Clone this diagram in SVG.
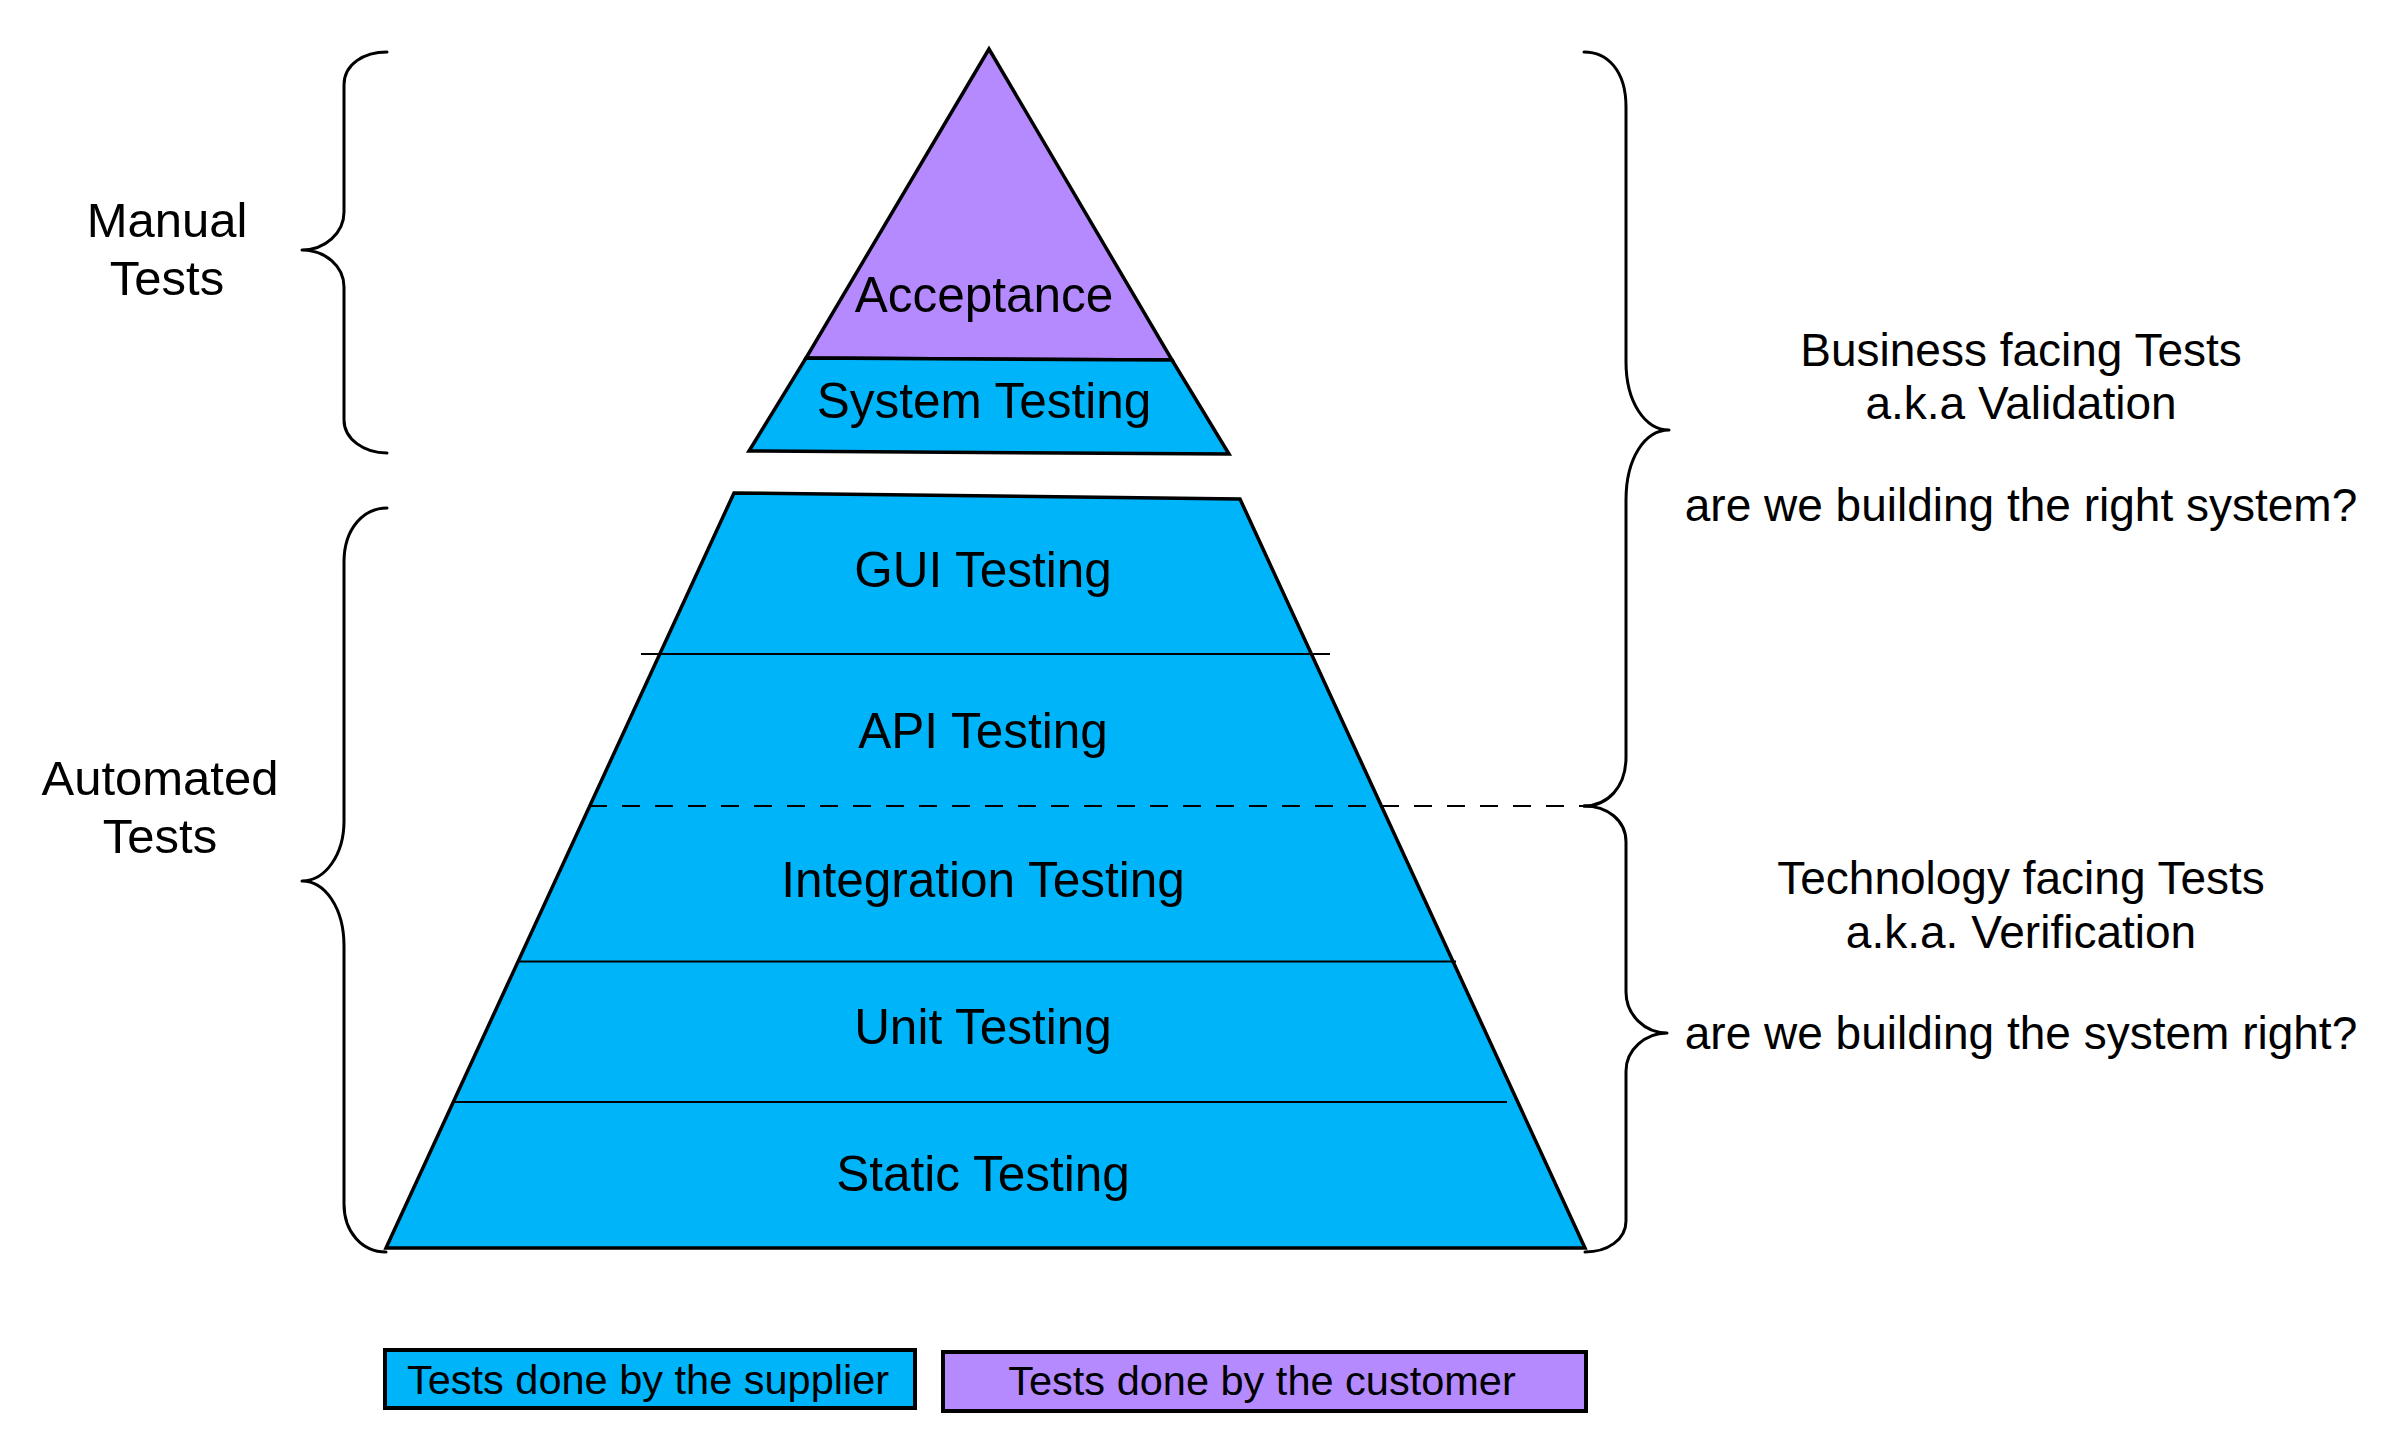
<svg xmlns="http://www.w3.org/2000/svg" width="2395" height="1454" viewBox="0 0 2395 1454">
<style>
  text { font-family: "Liberation Sans", Arial, Helvetica, sans-serif; fill: #000; }
  .lvl { font-size: 49.5px; text-anchor: middle; }
  .side { font-size: 49px; text-anchor: middle; }
  .note { font-size: 46px; text-anchor: middle; }
  .leg { font-size: 41.5px; text-anchor: middle; }
  .blue { fill: #00B4FA; }
  .purple { fill: #B48AFE; }
  .outline { stroke: #000; stroke-width: 3.5; stroke-linejoin: miter; }
  .brace { fill: none; stroke: #000; stroke-width: 3; stroke-linecap: round; stroke-linejoin: round; }
  .sep { stroke: #000; stroke-width: 1.8; fill: none; }
  .dash { stroke: #000; stroke-width: 2; fill: none; stroke-dasharray: 18 15; }
</style>
<rect x="0" y="0" width="2395" height="1454" fill="#ffffff"/>

<g id="acceptance">
  <polygon class="purple outline" points="989,49 806,358 1172,360"/>
  <text class="lvl" x="984" y="312">Acceptance</text>
</g>
<g id="system-testing">
  <polygon class="blue outline" points="806,358 1172,360 1229,454 749,451"/>
  <text class="lvl" x="984" y="418">System Testing</text>
</g>

<g id="automated-pyramid">
  <polygon class="blue outline" points="734,493 1240,499 1585,1248 386,1248"/>
</g>

<g id="connectors">
  <line class="sep" x1="641" y1="654" x2="1330" y2="654"/>
  <line class="dash" x1="589" y1="806" x2="1584" y2="806"/>
  <line class="sep" x1="517" y1="961.5" x2="1456" y2="961.5"/>
  <line class="sep" x1="454" y1="1102" x2="1507" y2="1102"/>
</g>

<g id="gui-testing"><text class="lvl" x="983" y="587">GUI Testing</text></g>
<g id="api-testing"><text class="lvl" x="983" y="748">API Testing</text></g>
<g id="integration-testing"><text class="lvl" x="983" y="897">Integration Testing</text></g>
<g id="unit-testing"><text class="lvl" x="983" y="1044">Unit Testing</text></g>
<g id="static-testing"><text class="lvl" x="983" y="1191">Static Testing</text></g>

<g id="manual-brace">
  <path class="brace" d="M387,52 C364,52 344,64 344,85 L344,212 C344,233 325,250 302,250 C325,250 344,266 344,287 L344,420 C344,439 364,453 387,453"/>
  <text class="side" x="167" y="237">Manual</text>
  <text class="side" x="167" y="295">Tests</text>
</g>

<g id="automated-brace">
  <path class="brace" d="M387,508 C364,508 344,528 344,562 L344,821 C344,855 325,881 302,881 C325,881 344,908 344,946 L344,1204 C344,1232 362,1252 386,1252"/>
  <text class="side" x="160" y="795">Automated</text>
  <text class="side" x="160" y="853">Tests</text>
</g>

<g id="business-brace">
  <path class="brace" d="M1584,52 C1607,52 1626,70 1626,107 L1626,362 C1626,402 1645,430 1669,430 C1645,430 1626,458 1626,500 L1626,757 C1626,788 1607,806 1584,806"/>
  <text class="note" x="2021" y="366">Business facing Tests</text>
  <text class="note" x="2021" y="419">a.k.a Validation</text>
  <text class="note" x="2021" y="521">are we building the right system?</text>
</g>

<g id="technology-brace">
  <path class="brace" d="M1584,806 C1607,806 1626,820 1626,842 L1626,992 C1626,1015 1645,1033 1667,1033 C1645,1033 1626,1050 1626,1071 L1626,1221 C1626,1240 1607,1252 1585,1252"/>
  <text class="note" x="2021" y="894">Technology facing Tests</text>
  <text class="note" x="2021" y="948">a.k.a. Verification</text>
  <text class="note" x="2021" y="1049">are we building the system right?</text>
</g>

<g id="legend-supplier">
  <rect class="blue" x="385" y="1350" width="530" height="58" stroke="#000" stroke-width="4"/>
  <text class="leg" x="648" y="1394">Tests done by the supplier</text>
</g>
<g id="legend-customer">
  <rect class="purple" x="943" y="1352" width="643" height="59" stroke="#000" stroke-width="4"/>
  <text class="leg" x="1262" y="1395">Tests done by the customer</text>
</g>
</svg>
